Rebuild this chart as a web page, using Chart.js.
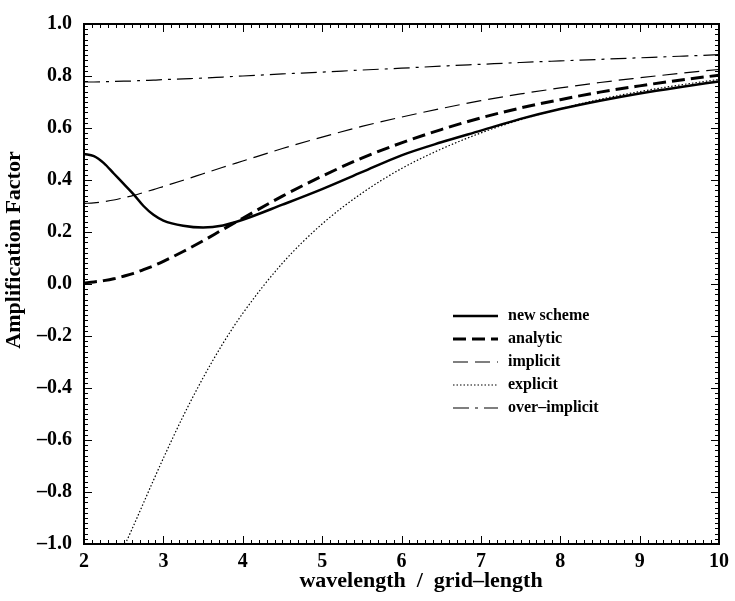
<!DOCTYPE html>
<html>
<head>
<meta charset="utf-8">
<title>Amplification Factor</title>
<script src="https://cdn.jsdelivr.net/npm/chart.js@4/dist/chart.umd.min.js"></script>
<style>
  html, body { margin: 0; padding: 0; background: #fff; }
  #wrap { width: 735px; height: 601px; }
</style>
</head>
<body>
<div id="wrap"><canvas id="myChart" width="735" height="601"></canvas></div>
<script>
/* wavelength in grid lengths */
var wavelengths = [2, 2.125, 2.25, 2.375, 2.5, 2.625, 2.75, 2.875, 3, 3.25, 3.5, 3.75, 4, 4.5, 5, 5.5, 6, 6.5, 7, 7.5, 8, 8.5, 9, 9.5, 10];

/* amplification factor of each scheme */
var newScheme    = [0.500, 0.492, 0.465, 0.425, 0.385, 0.345, 0.300, 0.266, 0.244, 0.224, 0.217, 0.225, 0.247, 0.305, 0.365, 0.430, 0.495, 0.545, 0.590, 0.635, 0.673, 0.705, 0.733, 0.757, 0.779];
var analytic     = [0.004, 0.008, 0.013, 0.020, 0.030, 0.041, 0.055, 0.070, 0.087, 0.125, 0.166, 0.210, 0.253, 0.338, 0.415, 0.484, 0.543, 0.594, 0.639, 0.677, 0.709, 0.738, 0.762, 0.784, 0.803];
var implicit     = [0.310, 0.312, 0.317, 0.323, 0.332, 0.341, 0.352, 0.363, 0.375, 0.399, 0.424, 0.449, 0.473, 0.521, 0.565, 0.606, 0.642, 0.675, 0.705, 0.731, 0.754, 0.775, 0.793, 0.810, 0.825];
var explicit     = [-1.226, -1.207, -1.159, -1.092, -1.013, -0.929, -0.842, -0.755, -0.670, -0.508, -0.361, -0.229, -0.113, 0.080, 0.231, 0.349, 0.444, 0.519, 0.581, 0.632, 0.674, 0.710, 0.740, 0.765, 0.787];
var overImplicit = [0.777, 0.777, 0.778, 0.779, 0.780, 0.781, 0.783, 0.784, 0.786, 0.789, 0.792, 0.796, 0.800, 0.808, 0.815, 0.823, 0.830, 0.838, 0.845, 0.852, 0.858, 0.864, 0.870, 0.876, 0.882];

var seriesNames = ['new scheme', 'analytic', 'implicit', 'explicit', 'over\u2013implicit'];

var FONT = 'Liberation Serif, Times New Roman, serif';

/* pairs the wavelengths with one series */
function toPoints(values) {
  return wavelengths.map(function(w, i) {
    return { x: w, y: values[i] };
  });
}

function makeDataset(label, values, width, dash) {
  return {
    label: label,
    data: toPoints(values),
    borderColor: '#000',
    borderWidth: width,
    borderDash: dash,
    pointRadius: 0,
    fill: false,
    cubicInterpolationMode: 'monotone'
  };
}

/* frame, inward ticks on all four sides, axis titles and the legend */
var framePlugin = {
  id: 'frame',
  afterDatasetsDraw: function(chart) {
    var ctx = chart.ctx;
    var area = chart.chartArea;
    var xs = chart.scales.x;
    var ys = chart.scales.y;
    var i, v, p, len;

    ctx.save();
    ctx.strokeStyle = '#000';
    ctx.lineWidth = 1;
    ctx.beginPath();

    // x ticks every 0.1, major every 1
    for (i = 0; i <= 80; i++) {
      v = 2 + i / 10;
      p = Math.round(xs.getPixelForValue(v)) + 0.5;
      len = (i % 10 === 0) ? 8 : 4;
      ctx.moveTo(p, area.bottom);
      ctx.lineTo(p, area.bottom - len);
      ctx.moveTo(p, area.top);
      ctx.lineTo(p, area.top + len);
    }
    // y ticks every 0.02, major every 0.2
    for (i = 0; i <= 100; i++) {
      v = -1 + i / 50;
      p = Math.round(ys.getPixelForValue(v)) + 0.5;
      len = (i % 10 === 0) ? 8 : 4;
      ctx.moveTo(area.left, p);
      ctx.lineTo(area.left + len, p);
      ctx.moveTo(area.right, p);
      ctx.lineTo(area.right - len, p);
    }
    ctx.stroke();

    ctx.lineWidth = 2;
    ctx.strokeRect(area.left, area.top, area.right - area.left, area.bottom - area.top);

    // axis titles
    ctx.fillStyle = '#000';
    ctx.font = 'bold 22px ' + FONT;
    ctx.textAlign = 'center';
    ctx.textBaseline = 'middle';
    ctx.fillText('wavelength  /  grid\u2013length', 421, 581);
    ctx.save();
    ctx.translate(14, 250);
    ctx.rotate(-Math.PI / 2);
    ctx.fillText('Amplification Factor', 0, 0);
    ctx.restore();

    // legend
    ctx.font = 'bold 16px ' + FONT;
    ctx.textAlign = 'left';
    chart.data.datasets.forEach(function(ds, k) {
      var y = 316 + k * 23;
      ctx.beginPath();
      ctx.lineWidth = ds.borderWidth;
      ctx.setLineDash(ds.borderDash || []);
      ctx.moveTo(453, y);
      ctx.lineTo(498, y);
      ctx.stroke();
      ctx.setLineDash([]);
      ctx.fillText(ds.label, 508, y);
    });
    ctx.restore();
  }
};

var config = {
  type: 'line',
  data: {
    datasets: [
      makeDataset(seriesNames[0], newScheme, 2.5, []),
      makeDataset(seriesNames[1], analytic, 3, [13, 6]),
      makeDataset(seriesNames[2], implicit, 1.2, [15, 7]),
      makeDataset(seriesNames[3], explicit, 1.2, [1.5, 2]),
      makeDataset(seriesNames[4], overImplicit, 1.2, [16, 6, 3, 6])
    ]
  },
  options: {
    responsive: false,
    animation: false,
    layout: { padding: { left: 0, right: 8, top: 10, bottom: 0 } },
    plugins: {
      legend: { display: false },
      tooltip: { enabled: false }
    },
    scales: {
      x: {
        type: 'linear',
        min: 2,
        max: 10,
        grid: { display: false, drawTicks: false },
        border: { display: false },
        ticks: {
          stepSize: 1,
          padding: 6,
          color: '#000',
          font: { family: FONT, size: 20, weight: 'bold' }
        },
        afterFit: function(scale) { scale.height = 57; }
      },
      y: {
        min: -1,
        max: 1,
        grid: { display: false, drawTicks: false },
        border: { display: false },
        ticks: {
          stepSize: 0.2,
          padding: 12,
          color: '#000',
          font: { family: FONT, size: 20, weight: 'bold' },
          callback: function(value) {
            return Number(value).toFixed(1).replace('-', '\u2013');
          }
        },
        afterFit: function(scale) { scale.width = 84; }
      }
    }
  },
  plugins: [framePlugin]
};

var ctx = document.getElementById('myChart').getContext('2d');
window.ampChart = new Chart(ctx, config);
</script>
</body>
</html>
